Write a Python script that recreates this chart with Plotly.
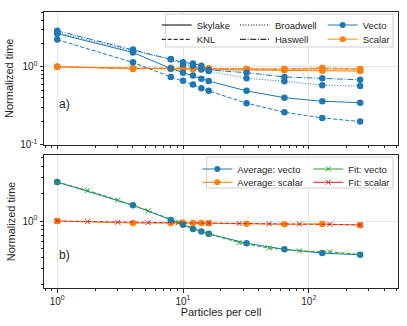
import plotly.graph_objects as go

# particles per cell at which the runs were done
particles = [1, 4, 8, 10, 12, 14, 16, 32, 64, 128, 256]

# normalized time, vectorized operators
vecto_skylake = [2.67, 1.53, 0.95, 0.84, 0.77, 0.70, 0.655, 0.49, 0.40, 0.36, 0.345]
vecto_knl = [2.24, 1.14, 0.74, 0.66, 0.59, 0.53, 0.49, 0.34, 0.26, 0.22, 0.197]
vecto_broadwell = [2.76, 1.60, 1.25, 1.07, 1.03, 0.93, 0.88, 0.71, 0.65, 0.58, 0.565]
vecto_haswell = [2.90, 1.67, 1.25, 1.14, 1.10, 1.03, 0.91, 0.84, 0.74, 0.71, 0.68]

# normalized time, scalar operators
scalar_skylake = [1.0, 0.95, 0.94, 0.93, 0.93, 0.92, 0.92, 0.91, 0.90, 0.89, 0.88]
scalar_knl = [1.0, 0.96, 0.97, 0.98, 0.97, 0.97, 0.96, 0.94, 0.94, 0.97, 0.94]
scalar_broadwell = [1.0, 0.95, 0.95, 0.96, 0.95, 0.95, 0.94, 0.93, 0.92, 0.93, 0.92]
scalar_haswell = [1.0, 0.94, 0.95, 0.95, 0.96, 0.96, 0.95, 0.94, 0.93, 0.95, 0.93]

# averages over the four machines
avg_vecto = [2.68, 1.49, 1.03, 0.91, 0.82, 0.77, 0.725, 0.57, 0.49, 0.445, 0.426]
avg_scalar = [1.0, 0.95, 0.95, 0.955, 0.95, 0.95, 0.945, 0.935, 0.92, 0.93, 0.90]

# fitted models
fit_particles = [1, 1.74, 3.03, 5.28, 9.19, 16, 27.9, 48.5, 84.4, 147, 256]
fit_vecto = [2.68, 2.17, 1.70, 1.30, 0.975, 0.72, 0.58, 0.505, 0.47, 0.46, 0.43]
fit_scalar = [1.0, 0.985, 0.97, 0.96, 0.955, 0.95, 0.94, 0.93, 0.925, 0.92, 0.91]

machines = ['Skylake', 'KNL', 'Broadwell', 'Haswell']
vecto = [vecto_skylake, vecto_knl, vecto_broadwell, vecto_haswell]
scalar = [scalar_skylake, scalar_knl, scalar_broadwell, scalar_haswell]

BLUE, ORANGE, GREEN, RED = '#1f77b4', '#ff7f0e', '#2ca02c', '#d62728'
INK = '#262626'
FONT = 'Liberation Sans, Arial'
DASH = {
    'Skylake': 'solid',
    'KNL': '4px,2px',
    'Broadwell': '1px,1.7px',
    'Haswell': '6px,1.6px,1px,1.6px',
}

W, H = 407, 326
L, R, T, B = 44, 9, 12, 38


def px_x(px):
    return (px - L) / (W - L - R)


def px_y(py):
    return (H - B - py) / (H - T - B)


fig = go.Figure()

for name, v, s in zip(machines, vecto, scalar):
    fig.add_trace(go.Scatter(
        x=particles, y=s, mode='lines+markers', showlegend=False,
        line=dict(color=ORANGE, width=1, dash=DASH[name]),
        marker=dict(size=6.5, color=ORANGE), xaxis='x', yaxis='y'))
for name, v, s in zip(machines, vecto, scalar):
    fig.add_trace(go.Scatter(
        x=particles, y=v, mode='lines+markers', showlegend=False,
        line=dict(color=BLUE, width=1, dash=DASH[name]),
        marker=dict(size=6.5, color=BLUE), xaxis='x', yaxis='y'))

# bottom panel
fig.add_trace(go.Scatter(
    x=particles, y=avg_scalar, mode='lines+markers', showlegend=False,
    line=dict(color=ORANGE, width=1), marker=dict(size=6.5, color=ORANGE),
    xaxis='x2', yaxis='y2'))
fig.add_trace(go.Scatter(
    x=particles, y=avg_vecto, mode='lines+markers', showlegend=False,
    line=dict(color=BLUE, width=1), marker=dict(size=6.5, color=BLUE),
    xaxis='x2', yaxis='y2'))
for ys, col in [(fit_scalar, RED), (fit_vecto, GREEN)]:
    fig.add_trace(go.Scatter(
        x=fit_particles, y=ys, mode='lines+markers', showlegend=False,
        line=dict(color=col, width=1, dash='4px,2px'),
        marker=dict(size=5, symbol='x-thin', line=dict(color=col, width=1)),
        xaxis='x2', yaxis='y2'))

# legend entries, one small legend per entry so they sit on a grid like the original
entries = [
    ('Skylake', dict(color='black', width=1, dash=DASH['Skylake']), None, 'x', 196.7, 25),
    ('Broadwell', dict(color='black', width=1, dash=DASH['Broadwell']), None, 'x', 275, 25),
    ('Vecto', dict(color=BLUE, width=1), dict(size=6, color=BLUE), 'x', 362.7, 25),
    ('KNL', dict(color='black', width=1, dash=DASH['KNL']), None, 'x', 196.7, 39.3),
    ('Haswell', dict(color='black', width=1, dash=DASH['Haswell']), None, 'x', 275, 39.3),
    ('Scalar', dict(color='rgba(255,127,14,0.6)', width=1.5),
     dict(size=6, color=ORANGE), 'x', 362.7, 39.3),
    ('Average: vecto', dict(color=BLUE, width=1), dict(size=6, color=BLUE), 'x2', 237.3, 169),
    ('Fit: vecto', dict(color=GREEN, width=1),
     dict(size=5, symbol='x-thin', line=dict(color=GREEN, width=1)), 'x2', 348.3, 169),
    ('Average: scalar', dict(color=ORANGE, width=1), dict(size=6, color=ORANGE), 'x2', 237.3, 182.3),
    ('Fit: scalar', dict(color=RED, width=1),
     dict(size=5, symbol='x-thin', line=dict(color=RED, width=1)), 'x2', 348.3, 182.3),
]

legends = {}
for i, (name, line, marker, xa, tx, ty) in enumerate(entries):
    key = 'legend' if i == 0 else f'legend{i + 1}'
    fig.add_trace(go.Scatter(
        x=[None], y=[None], name=name, legend=key,
        mode='lines+markers' if marker else 'lines',
        line=line, marker=marker,
        xaxis=xa, yaxis='y' if xa == 'x' else 'y2'))
    legends[key] = dict(
        x=px_x(tx - 40), y=px_y(ty), xanchor='left', yanchor='middle',
        bgcolor='rgba(0,0,0,0)', borderwidth=0,
        font=dict(family=FONT, size=9.5, color=INK))

axis_common = dict(
    type='log', automargin=False, showline=True, mirror=True, linecolor=INK, linewidth=1,
    showgrid=True, gridcolor='#e6e6e6', gridwidth=1, zeroline=False,
    ticks='outside', ticklen=3.5, tickwidth=1, tickcolor=INK,
    tickfont=dict(family=FONT, size=10, color=INK),
)
minor_ticks = dict(ticks='outside', ticklen=2, tickcolor=INK, showgrid=False)

xticks = [1, 10, 100]
xticktext = ['10<sup>0</sup>', '10<sup>1</sup>', '10<sup>2</sup>']
xminor = [m * d for d in [0.1, 1, 10, 100] for m in range(2, 10)]
yminor = [m * d for d in [0.1, 1] for m in range(2, 10)]

xaxis = dict(axis_common, range=[-0.105, 2.709], tickvals=xticks, ticktext=xticktext,
             minor=dict(minor_ticks, tickvals=xminor))

fig.update_layout(
    width=W, height=H,
    margin=dict(l=L, r=R, t=T, b=B),
    paper_bgcolor='white', plot_bgcolor='white',
    font=dict(family=FONT, color=INK),
    xaxis=dict(xaxis, anchor='y', showticklabels=False),
    xaxis2=dict(xaxis, anchor='y2', matches='x',
                title=dict(text='Particles per cell', font=dict(size=11), standoff=0)),
    yaxis=dict(axis_common, domain=[px_y(144.5), 1], range=[-1, 0.705],
               tickvals=[0.1, 1], ticktext=['10<sup>-1</sup>', '10<sup>0</sup>'],
               minor=dict(minor_ticks, tickvals=yminor),
               title=dict(text='Normalized time', font=dict(size=11), standoff=4)),
    yaxis2=dict(axis_common, domain=[0, px_y(155)], range=[-0.735, 0.725],
                tickvals=[1], ticktext=['10<sup>0</sup>'],
                minor=dict(minor_ticks, tickvals=yminor),
                title=dict(text='Normalized time', font=dict(size=11), standoff=4)),
    shapes=[
        dict(type='rect', xref='paper', yref='paper', layer='above',
             x0=px_x(165.7), x1=px_x(393), y0=px_y(47), y1=px_y(14),
             fillcolor='rgba(255,255,255,0.8)', line=dict(color='#d0d0d0', width=1)),
        dict(type='rect', xref='paper', yref='paper', layer='above',
             x0=px_x(206.7), x1=px_x(393), y0=px_y(188), y1=px_y(157),
             fillcolor='rgba(255,255,255,0.8)', line=dict(color='#d0d0d0', width=1)),
    ],
    annotations=[
        dict(text='a)', xref='x domain', yref='y domain', x=0.037, y=0.306,
             xanchor='left', yanchor='middle', showarrow=False, font=dict(size=12, color=INK)),
        dict(text='b)', xref='x2 domain', yref='y2 domain', x=0.037, y=0.25,
             xanchor='left', yanchor='middle', showarrow=False, font=dict(size=12, color=INK)),
    ],
    **legends,
)

# the page body keeps its default 8px margin otherwise, which shifts the whole figure
fig.write_html('out.html', config={'displayModeBar': False},
               post_script="document.body.style.margin = '0px';")
